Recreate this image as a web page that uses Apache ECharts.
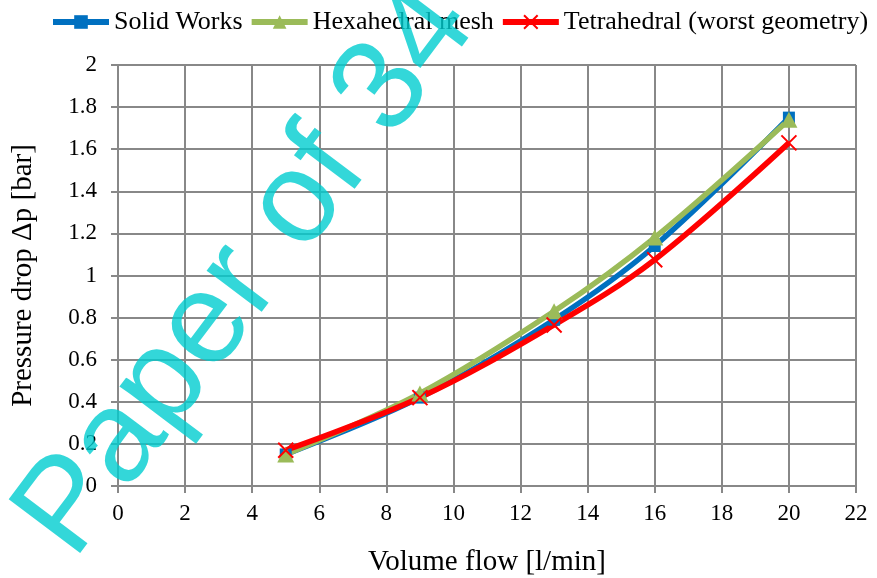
<!DOCTYPE html>
<html>
<head>
<meta charset="utf-8">
<script src="https://cdn.jsdelivr.net/npm/echarts@6/dist/echarts.min.js"></script>
<style>html,body{margin:0;padding:0;background:#fff;}#c{width:877px;height:578px;}</style>
</head>
<body>
<div id="c"></div>
<script>
const flow = [5, 9, 13, 16, 20];
const solidWorks = [0.15, 0.42, 0.79, 1.14, 1.75];
const hexahedral = [0.15, 0.44, 0.83, 1.18, 1.74];
const tetrahedral = [0.17, 0.42, 0.765, 1.075, 1.63];
const seriesNames = ['Solid Works', 'Hexahedral mesh', 'Tetrahedral (worst geometry)'];
const xTitle = 'Volume flow [l/min]';
const yTitle = 'Pressure drop \u0394p [bar]';
const watermark = 'Paper of 34';

const pair = (ys) => flow.map((x, i) => [x, ys[i]]);
const font = 'Liberation Serif, Times New Roman, serif';
const chart = echarts.init(document.getElementById('c'), null, {renderer: 'canvas'});
const crossPath = 'path://M0,0L10,10M10,0L0,10';
chart.setOption({
  animation: false,
  backgroundColor: '#fff',
  textStyle: {fontFamily: font},
  legend: {
    left: 50, top: 9, width: 850, padding: 0,
    itemWidth: 56, itemHeight: 17, itemGap: 6,
    lineStyle: {width: 6},
    textStyle: {fontFamily: font, fontSize: 26, color: '#000'},
    data: seriesNames
  },
  grid: {left: 118, right: 21, top: 65, bottom: 92, containLabel: false, outerBoundsMode: 'none'},
  xAxis: {
    type: 'value', min: 0, max: 22, interval: 2,
    name: xTitle, nameLocation: 'middle', nameGap: 62,
    nameTextStyle: {fontFamily: font, fontSize: 29, color: '#000'},
    axisLine: {show: true, lineStyle: {color: '#888', width: 2}},
    axisTick: {show: true, length: 7, lineStyle: {color: '#888', width: 2}},
    axisLabel: {fontFamily: font, fontSize: 23, color: '#000', margin: 16},
    splitLine: {show: true, lineStyle: {color: '#888', width: 2}}
  },
  yAxis: {
    type: 'value', min: 0, max: 2, interval: 0.2,
    name: yTitle, nameLocation: 'middle', nameGap: 80, nameRotate: 90,
    nameTextStyle: {fontFamily: font, fontSize: 29, color: '#000'},
    axisLine: {show: true, lineStyle: {color: '#888', width: 2}},
    axisTick: {show: true, length: 7, lineStyle: {color: '#888', width: 2}},
    axisLabel: {fontFamily: font, fontSize: 23, color: '#000', margin: 21},
    splitLine: {show: true, lineStyle: {color: '#888', width: 2}}
  },
  series: [
    {
      name: seriesNames[0], type: 'line', smooth: 0.35, data: pair(solidWorks),
      symbol: 'rect', symbolSize: 12,
      lineStyle: {color: '#0070C0', width: 5.5},
      itemStyle: {color: '#0070C0'}
    },
    {
      name: seriesNames[1], type: 'line', smooth: 0.35, data: pair(hexahedral),
      symbol: 'triangle', symbolSize: [17, 16],
      lineStyle: {color: '#9BBB59', width: 5.5},
      itemStyle: {color: '#9BBB59'}
    },
    {
      name: seriesNames[2], type: 'line', smooth: 0.35, data: pair(tetrahedral),
      symbol: crossPath, symbolSize: 15,
      lineStyle: {color: '#FF0000', width: 5.5},
      itemStyle: {color: 'rgba(0,0,0,0)', borderColor: '#FF0000', borderWidth: 2}
    }
  ],
  graphic: [{
    type: 'text', z: 100, silent: true,
    x: 45, y: 540, rotation: 53 * Math.PI / 180,
    style: {
      text: watermark,
      font: '130px Liberation Sans, Arial, sans-serif',
      fill: 'rgba(0,205,207,0.8)',
      textAlign: 'left', textVerticalAlign: 'middle'
    }
  }]
});
</script>
</body>
</html>
